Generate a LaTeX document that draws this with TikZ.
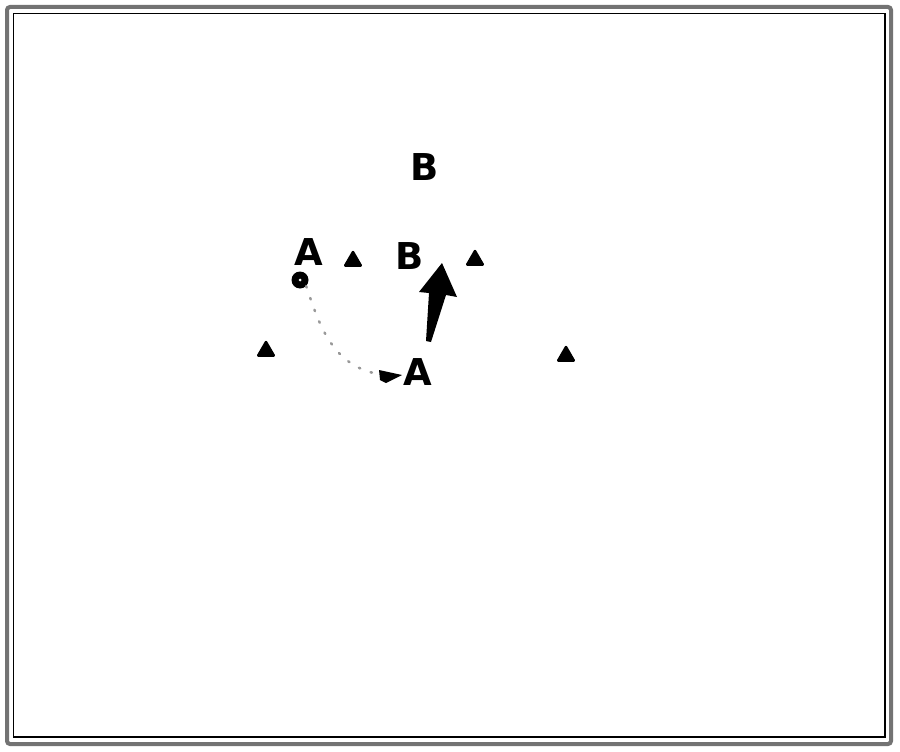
\documentclass[tikz,border=0pt]{standalone}
\usepackage{fontspec}
\setsansfont{DejaVu Sans}
\usetikzlibrary{shapes.geometric,arrows.meta,calc}
\tikzset{
  letter/.style={font=\sffamily\bfseries\fontsize{37}{37}\selectfont, inner sep=0pt, anchor=center},
  tri/.style={regular polygon, regular polygon sides=3, fill=black, draw=black, line width=2.5pt, line join=round, inner sep=0pt, minimum size=18pt},
  dotarc/.style={draw=black!40, line width=2.5pt, dash pattern=on 1.5pt off 11pt, line cap=round},
}
\begin{document}
\begin{tikzpicture}[x=1pt,y=-1pt]
\useasboundingbox (0,0) rectangle (900,752);
% frame
\draw[black!55, line width=4pt, rounded corners=3pt] (7,7) rectangle (891,744);
\draw[black, line width=1.2pt] (13.5,13.5) rectangle (885,737);
% letters
\node[letter] (Btop) at (425,167) {B};
\node[letter] (Aleft) at (309,252) {A};
\node[letter] (Bmid) at (410,256) {B};
\node[letter] (Alow) at (418,372) {A};
% triangles
\node[tri] (t1) at (353,261) {};
\node[tri] (t2) at (475,260) {};
\node[tri] (t3) at (266,351) {};
\node[tri] (t4) at (566,356) {};
% small circle
\node[circle, fill=black, minimum size=17pt, inner sep=0pt] (c) at (300,280) {};
\node[circle, fill=white, minimum size=3pt, inner sep=0pt] at (c) {};
% dotted arc with arrowhead
\draw[dotarc] (c.south east) .. controls (318,320) and (330,365) .. (378,374);
\fill (379,370) -- (402,375) -- (386,383) -- (380,380) -- cycle;
% big arrow
\coordinate (arrTail) at (426,341);
\coordinate (arrTip) at (442,263);
\fill[line join=round] (arrTip) -- (457,297) -- (446,295) -- (431,342) -- (arrTail) -- (429,293) -- (419,292) -- cycle;
\end{tikzpicture}
\end{document}
